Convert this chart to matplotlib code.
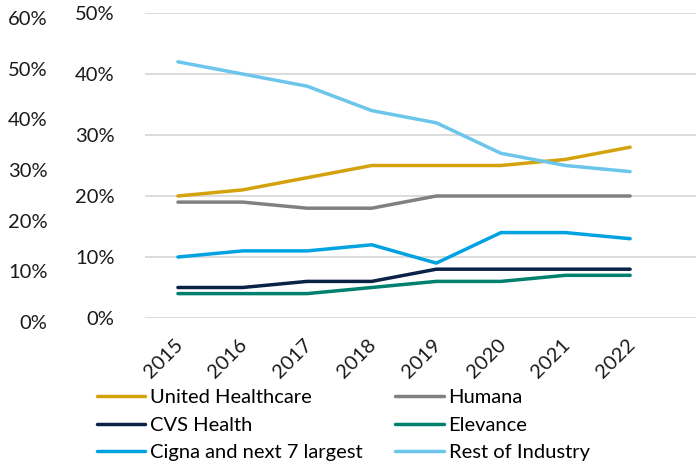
import matplotlib
matplotlib.use("Agg")
import matplotlib.pyplot as plt
import matplotlib.transforms as mtransforms
import numpy as np

years = ["2015", "2016", "2017", "2018", "2019", "2020", "2021", "2022"]
united = [20, 21, 23, 25, 25, 25, 26, 28]
humana = [19, 19, 18, 18, 20, 20, 20, 20]
cvs = [5, 5, 6, 6, 8, 8, 8, 8]
elevance = [4, 4, 4, 5, 6, 6, 7, 7]
cigna = [10, 11, 11, 12, 9, 14, 14, 13]
rest = [42, 40, 38, 34, 32, 27, 25, 24]

names = ["United Healthcare", "Humana", "CVS Health", "Elevance",
         "Cigna and next 7 largest", "Rest of Industry"]
series = [united, humana, cvs, elevance, cigna, rest]
colors = ["#D4A20C", "#808080", "#0B2247", "#00806E", "#00A3E0", "#6CC6EC"]

inner_ticks = [0, 10, 20, 30, 40, 50]
outer_ticks = [0, 10, 20, 30, 40, 50, 60]

plt.rcParams['font.family'] = ['Lato', 'DejaVu Sans']
FS = 14.5
W, H = 696, 466
fig = plt.figure(figsize=(W / 100, H / 100), dpi=100)

def fx(px):
    return px / W

def fy(py):
    return 1 - py / H

ax = fig.add_axes([fx(145), fy(318), fx(696 - 145), (318 - 13) / H])
x = np.arange(len(years))
lines = []
for vals, c, n in zip(series, colors, names):
    ln, = ax.plot(x, vals, color=c, lw=2.5, solid_capstyle='round', label=n, zorder=3)
    lines.append(ln)
ax.set_ylim(0, 50)
ax.set_xlim(-0.51, 8.02)
ax.set_yticks(inner_ticks)
ax.set_yticklabels([f"{t}%" for t in inner_ticks])
ax.yaxis.grid(True, color="#D9D9D9", lw=1.3, zorder=0)
ax.tick_params(axis='y', length=0, pad=22, labelsize=FS, colors='#1a1a1a')
ax.set_xticks(x)
ax.set_xticklabels(years, rotation=45, ha='right', rotation_mode='anchor')
ax.tick_params(axis='x', length=0, pad=13, labelsize=FS, colors='#1a1a1a')
offset = mtransforms.ScaledTranslation(-4 / 100, 0, fig.dpi_scale_trans)
for lab in ax.get_xticklabels():
    lab.set_transform(lab.get_transform() + offset)
for s in ax.spines.values():
    s.set_visible(False)

ax2 = fig.add_axes([fx(60), fy(322), 0.01, (322 - 18) / H])
ax2.set_ylim(0, 60)
ax2.set_yticks(outer_ticks)
ax2.set_yticklabels([f"{t}%" for t in outer_ticks])
ax2.tick_params(axis='y', length=0, pad=9, labelsize=FS, colors='#1a1a1a')
ax2.set_xticks([])
for s in ax2.spines.values():
    s.set_visible(False)
ax2.patch.set_alpha(0)

order = [0, 2, 4, 1, 3, 5]
fig.legend([lines[i] for i in order], [names[i] for i in order], ncol=2,
           loc='upper left', bbox_to_anchor=(fx(97), fy(389)), frameon=False,
           fontsize=FS, handlelength=2.4, handletextpad=0.25,
           columnspacing=1.6, labelspacing=0.52, borderpad=0, borderaxespad=0)

fig.savefig("out.png", dpi=100)
